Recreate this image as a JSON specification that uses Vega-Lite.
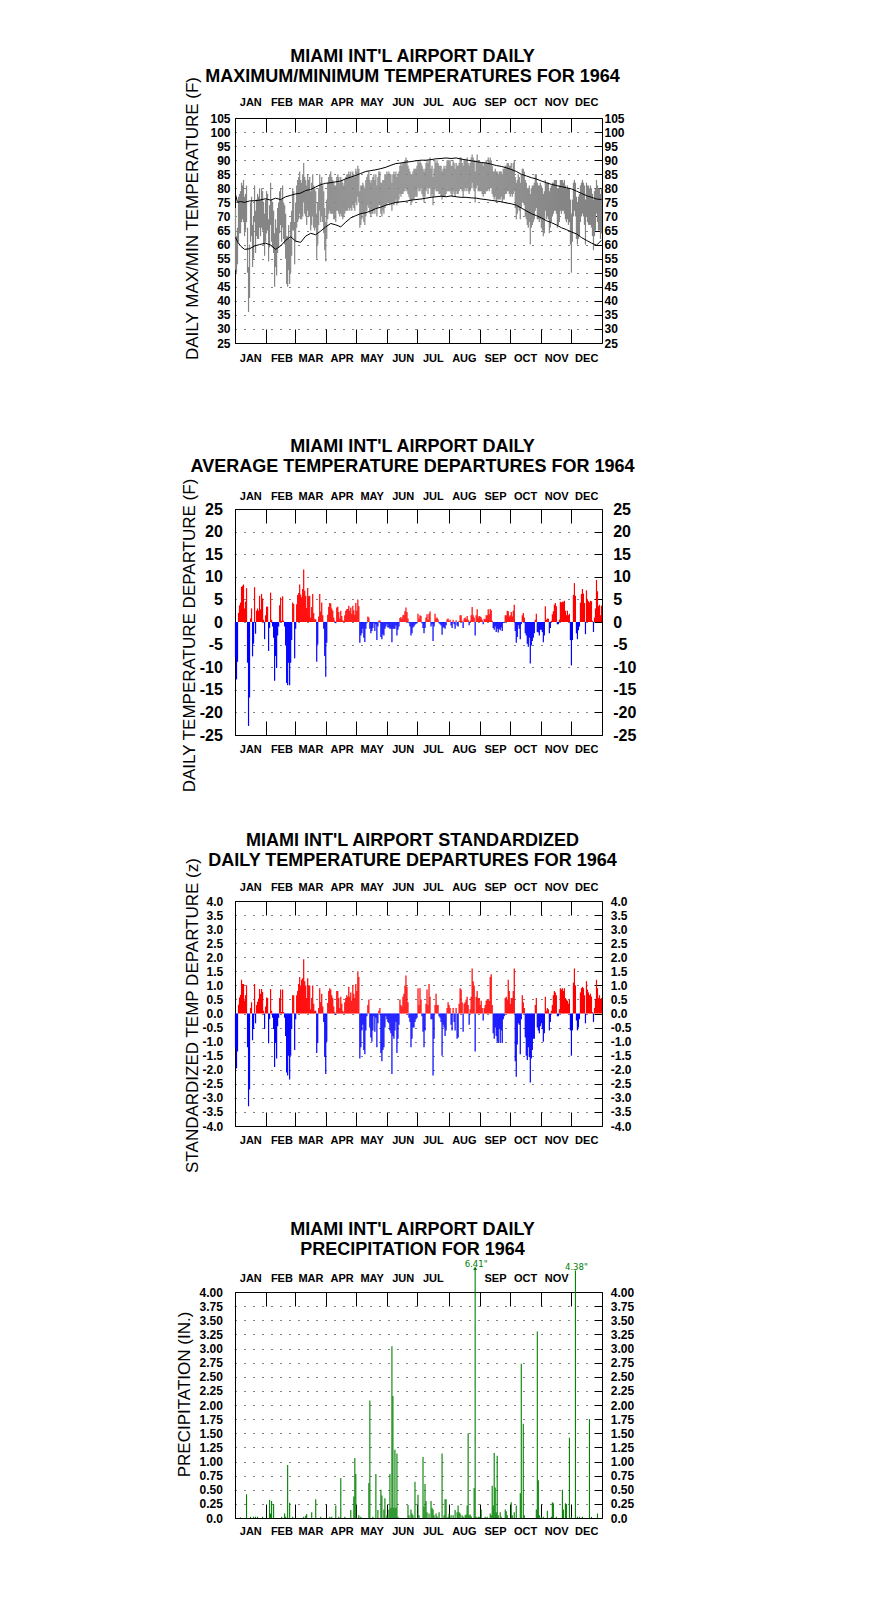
{
"$schema":"https://vega.github.io/schema/vega-lite/v6.json",
"background":"white",
"autosize":{"type":"pad"},
"padding":{"left":175,"top":47,"right":5,"bottom":5},
"spacing":166,
"bounds":"flush",
"datasets":{
"daily":[
{"day":1,"hi":73,"lo":51,"dep":-7.8,"z":-1.2},{"day":2,"hi":63,"lo":50,"dep":-12.7,"z":-1.95},{"day":3,"hi":66,"lo":53,"dep":-8.8,"z":-1.35},{"day":4,"hi":77,"lo":61,"dep":2.0,"z":0.31},{"day":5,"hi":78,"lo":64,"dep":3.7,"z":0.57},{"day":6,"hi":79,"lo":64,"dep":4.3,"z":0.66},{"day":7,"hi":82,"lo":68,"dep":7.8,"z":1.2},{"day":8,"hi":81,"lo":69,"dep":8.0,"z":1.05},{"day":9,"hi":83,"lo":68,"dep":8.3,"z":1.05},{"day":10,"hi":77,"lo":63,"dep":3.0,"z":0.46},
{"day":11,"hi":78,"lo":65,"dep":4.5,"z":0.65},{"day":12,"hi":81,"lo":68,"dep":7.5,"z":1.0},{"day":13,"hi":66,"lo":50,"dep":-9.0,"z":-1.2},{"day":14,"hi":52,"lo":36,"dep":-23.0,"z":-3.3},{"day":15,"hi":60,"lo":41,"dep":-16.7,"z":-2.7},{"day":16,"hi":75,"lo":61,"dep":0.8,"z":0.2},{"day":17,"hi":77,"lo":63,"dep":3.0,"z":0.4},{"day":18,"hi":67,"lo":52,"dep":-7.6,"z":-0.95},{"day":19,"hi":70,"lo":55,"dep":-4.8,"z":-0.55},{"day":20,"hi":81,"lo":68,"dep":7.7,"z":1.05},
{"day":21,"hi":72,"lo":57,"dep":-2.6,"z":-0.35},{"day":22,"hi":76,"lo":63,"dep":2.5,"z":0.3},{"day":23,"hi":78,"lo":62,"dep":3.0,"z":0.42},{"day":24,"hi":77,"lo":62,"dep":2.5,"z":0.53},{"day":25,"hi":80,"lo":66,"dep":5.8,"z":0.87},{"day":26,"hi":76,"lo":63,"dep":2.8,"z":0.7},{"day":27,"hi":80,"lo":66,"dep":6.2,"z":0.87},{"day":28,"hi":79,"lo":65,"dep":5.2,"z":0.77},{"day":29,"hi":75,"lo":60,"dep":0.5,"z":0.1},{"day":30,"hi":71,"lo":56,"dep":-3.8,"z":-0.55},
{"day":31,"hi":76,"lo":61,"dep":1.5,"z":0.25},{"day":32,"hi":79,"lo":64,"dep":3.4,"z":0.57},{"day":33,"hi":78,"lo":65,"dep":3.4,"z":0.55},{"day":34,"hi":69,"lo":54,"dep":-6.4,"z":-1.06},{"day":35,"hi":74,"lo":59,"dep":-1.3,"z":-0.2},{"day":36,"hi":82,"lo":67,"dep":6.5,"z":0.87},{"day":37,"hi":76,"lo":61,"dep":0.5,"z":0.1},{"day":38,"hi":75,"lo":59,"dep":-1.0,"z":-0.15},{"day":39,"hi":72,"lo":57,"dep":-3.5,"z":-0.55},{"day":40,"hi":64,"lo":45,"dep":-13.0,"z":-1.9},
{"day":41,"hi":69,"lo":52,"dep":-7.5,"z":-1.05},{"day":42,"hi":66,"lo":49,"dep":-10.2,"z":-1.6},{"day":43,"hi":73,"lo":57,"dep":-3.0,"z":-0.45},{"day":44,"hi":75,"lo":59,"dep":-1.0,"z":-0.15},{"day":45,"hi":79,"lo":64,"dep":3.7,"z":0.55},{"day":46,"hi":80,"lo":67,"dep":5.4,"z":0.85},{"day":47,"hi":76,"lo":61,"dep":0.3,"z":0.05},{"day":48,"hi":81,"lo":66,"dep":5.7,"z":0.85},{"day":49,"hi":75,"lo":62,"dep":0.3,"z":0.05},{"day":50,"hi":74,"lo":60,"dep":-1.0,"z":-0.15},
{"day":51,"hi":71,"lo":55,"dep":-5.2,"z":-0.8},{"day":52,"hi":63,"lo":46,"dep":-13.5,"z":-2.1},{"day":53,"hi":63,"lo":45,"dep":-14.0,"z":-2.2},{"day":54,"hi":67,"lo":51,"dep":-9.0,"z":-1.5},{"day":55,"hi":62,"lo":46,"dep":-14.0,"z":-2.35},{"day":56,"hi":68,"lo":50,"dep":-9.0,"z":-1.5},{"day":57,"hi":72,"lo":56,"dep":-4.0,"z":-0.55},{"day":58,"hi":80,"lo":65,"dep":4.3,"z":0.65},{"day":59,"hi":79,"lo":65,"dep":4.0,"z":0.65},{"day":60,"hi":68,"lo":53,"dep":-8.0,"z":-1.3},
{"day":61,"hi":75,"lo":61,"dep":-1.5,"z":-0.2},{"day":62,"hi":81,"lo":66,"dep":3.9,"z":0.65},{"day":63,"hi":83,"lo":68,"dep":6.0,"z":0.8},{"day":64,"hi":84,"lo":69,"dep":6.4,"z":1.05},{"day":65,"hi":86,"lo":71,"dep":8.3,"z":1.3},{"day":66,"hi":83,"lo":69,"dep":6.1,"z":1.0},{"day":67,"hi":82,"lo":69,"dep":5.5,"z":1.2},{"day":68,"hi":85,"lo":70,"dep":7.3,"z":1.25},{"day":69,"hi":89,"lo":75,"dep":11.6,"z":1.93},{"day":70,"hi":84,"lo":71,"dep":6.9,"z":1.15},
{"day":71,"hi":83,"lo":70,"dep":5.8,"z":1.0},{"day":72,"hi":81,"lo":67,"dep":3.1,"z":0.55},{"day":73,"hi":85,"lo":72,"dep":7.5,"z":1.25},{"day":74,"hi":83,"lo":70,"dep":5.7,"z":1.0},{"day":75,"hi":84,"lo":70,"dep":5.8,"z":1.0},{"day":76,"hi":79,"lo":65,"dep":1.0,"z":0.15},{"day":77,"hi":82,"lo":67,"dep":3.3,"z":0.55},{"day":78,"hi":85,"lo":70,"dep":6.2,"z":1.0},{"day":79,"hi":81,"lo":66,"dep":2.0,"z":0.35},{"day":80,"hi":80,"lo":65,"dep":0.6,"z":0.1},
{"day":81,"hi":79,"lo":66,"dep":0.6,"z":0.1},{"day":82,"hi":71,"lo":55,"dep":-8.8,"z":-1.4},{"day":83,"hi":75,"lo":60,"dep":-5.0,"z":-1.05},{"day":84,"hi":80,"lo":67,"dep":1.2,"z":0.2},{"day":85,"hi":85,"lo":72,"dep":6.2,"z":0.9},{"day":86,"hi":82,"lo":68,"dep":2.3,"z":0.4},{"day":87,"hi":84,"lo":70,"dep":4.3,"z":0.7},{"day":88,"hi":81,"lo":68,"dep":1.5,"z":0.25},{"day":89,"hi":79,"lo":64,"dep":-1.5,"z":-0.3},{"day":90,"hi":73,"lo":58,"dep":-7.5,"z":-1.55},
{"day":91,"hi":68,"lo":54,"dep":-12.1,"z":-2.15},{"day":92,"hi":76,"lo":62,"dep":-4.6,"z":-1.0},{"day":93,"hi":82,"lo":69,"dep":1.6,"z":0.37},{"day":94,"hi":84,"lo":71,"dep":3.4,"z":0.8},{"day":95,"hi":85,"lo":72,"dep":4.2,"z":0.9},{"day":96,"hi":86,"lo":71,"dep":4.1,"z":0.85},{"day":97,"hi":84,"lo":71,"dep":3.0,"z":0.65},{"day":98,"hi":83,"lo":71,"dep":2.5,"z":0.55},{"day":99,"hi":82,"lo":69,"dep":1.0,"z":0.25},{"day":100,"hi":81,"lo":69,"dep":0.3,"z":0.05},
{"day":101,"hi":81,"lo":68,"dep":-0.3,"z":-0.05},{"day":102,"hi":84,"lo":72,"dep":3.2,"z":0.8},{"day":103,"hi":85,"lo":72,"dep":3.4,"z":0.8},{"day":104,"hi":84,"lo":71,"dep":2.2,"z":0.55},{"day":105,"hi":82,"lo":70,"dep":0.8,"z":0.2},{"day":106,"hi":84,"lo":71,"dep":2.5,"z":0.6},{"day":107,"hi":83,"lo":70,"dep":1.3,"z":0.35},{"day":108,"hi":82,"lo":69,"dep":0.4,"z":0.1},{"day":109,"hi":81,"lo":70,"dep":0.2,"z":0.05},{"day":110,"hi":83,"lo":71,"dep":1.5,"z":0.4},
{"day":111,"hi":84,"lo":72,"dep":2.5,"z":0.55},{"day":112,"hi":85,"lo":72,"dep":2.8,"z":0.65},{"day":113,"hi":85,"lo":72,"dep":2.9,"z":0.6},{"day":114,"hi":86,"lo":73,"dep":3.6,"z":0.95},{"day":115,"hi":85,"lo":72,"dep":2.5,"z":0.6},{"day":116,"hi":86,"lo":73,"dep":3.2,"z":0.75},{"day":117,"hi":84,"lo":72,"dep":1.8,"z":0.45},{"day":118,"hi":86,"lo":74,"dep":3.6,"z":1.0},{"day":119,"hi":85,"lo":73,"dep":2.6,"z":0.7},{"day":120,"hi":84,"lo":72,"dep":1.6,"z":0.55},
{"day":121,"hi":87,"lo":75,"dep":4.2,"z":1.05},{"day":122,"hi":86,"lo":74,"dep":2.5,"z":0.8},{"day":123,"hi":88,"lo":77,"dep":5.0,"z":1.5},{"day":124,"hi":87,"lo":75,"dep":3.5,"z":1.3},{"day":125,"hi":79,"lo":66,"dep":-4.6,"z":-1.6},{"day":126,"hi":81,"lo":67,"dep":-3.0,"z":-1.2},{"day":127,"hi":81,"lo":69,"dep":-2.5,"z":-0.6},{"day":128,"hi":82,"lo":71,"dep":-1.5,"z":-0.4},{"day":129,"hi":81,"lo":68,"dep":-3.5,"z":-1.3},{"day":130,"hi":80,"lo":67,"dep":-4.4,"z":-1.45},
{"day":131,"hi":83,"lo":70,"dep":-1.5,"z":-0.6},{"day":132,"hi":84,"lo":72,"dep":-0.3,"z":-0.1},{"day":133,"hi":85,"lo":74,"dep":1.2,"z":0.3},{"day":134,"hi":86,"lo":73,"dep":1.0,"z":0.5},{"day":135,"hi":83,"lo":71,"dep":-1.5,"z":-0.5},{"day":136,"hi":82,"lo":70,"dep":-2.5,"z":-0.85},{"day":137,"hi":83,"lo":71,"dep":-2.0,"z":-1.0},{"day":138,"hi":84,"lo":71,"dep":-1.3,"z":-0.6},{"day":139,"hi":85,"lo":72,"dep":-0.3,"z":-0.1},{"day":140,"hi":83,"lo":71,"dep":-2.0,"z":-0.65},
{"day":141,"hi":85,"lo":73,"dep":-0.5,"z":-0.15},{"day":142,"hi":81,"lo":70,"dep":-4.0,"z":-1.2},{"day":143,"hi":84,"lo":73,"dep":-1.0,"z":-0.35},{"day":144,"hi":86,"lo":74,"dep":0.3,"z":0.1},{"day":145,"hi":86,"lo":74,"dep":0.4,"z":0.2},{"day":146,"hi":82,"lo":71,"dep":-3.3,"z":-1.4},{"day":147,"hi":82,"lo":70,"dep":-3.8,"z":-1.7},{"day":148,"hi":83,"lo":72,"dep":-2.7,"z":-1.3},{"day":149,"hi":83,"lo":71,"dep":-3.0,"z":-1.2},{"day":150,"hi":85,"lo":73,"dep":-1.5,"z":-0.5},
{"day":151,"hi":85,"lo":74,"dep":-1.0,"z":-0.1},{"day":152,"hi":86,"lo":74,"dep":-0.5,"z":-0.2},{"day":153,"hi":85,"lo":75,"dep":-1.2,"z":-0.3},{"day":154,"hi":86,"lo":75,"dep":-1.2,"z":-0.35},{"day":155,"hi":85,"lo":74,"dep":-1.5,"z":-0.6},{"day":156,"hi":85,"lo":75,"dep":-1.5,"z":-0.7},{"day":157,"hi":82,"lo":72,"dep":-4.5,"z":-2.15},{"day":158,"hi":85,"lo":75,"dep":-1.5,"z":-0.8},{"day":159,"hi":86,"lo":74,"dep":-1.5,"z":-0.9},{"day":160,"hi":85,"lo":75,"dep":-1.5,"z":-0.6},
{"day":161,"hi":86,"lo":76,"dep":-0.8,"z":-0.3},{"day":162,"hi":84,"lo":74,"dep":-3.0,"z":-1.4},{"day":163,"hi":85,"lo":75,"dep":-1.7,"z":-0.9},{"day":164,"hi":86,"lo":76,"dep":-1.0,"z":-0.4},{"day":165,"hi":88,"lo":78,"dep":0.9,"z":0.5},{"day":166,"hi":89,"lo":77,"dep":1.1,"z":0.3},{"day":167,"hi":88,"lo":78,"dep":0.7,"z":0.25},{"day":168,"hi":89,"lo":78,"dep":1.5,"z":0.6},{"day":169,"hi":89,"lo":79,"dep":1.6,"z":0.7},{"day":170,"hi":90,"lo":79,"dep":2.4,"z":1.0},
{"day":171,"hi":91,"lo":80,"dep":3.2,"z":1.35},{"day":172,"hi":90,"lo":79,"dep":2.2,"z":0.95},{"day":173,"hi":88,"lo":78,"dep":0.8,"z":0.4},{"day":174,"hi":87,"lo":77,"dep":-0.3,"z":-0.15},{"day":175,"hi":86,"lo":76,"dep":-1.0,"z":-0.3},{"day":176,"hi":85,"lo":74,"dep":-3.0,"z":-1.2},{"day":177,"hi":85,"lo":75,"dep":-2.5,"z":-0.9},{"day":178,"hi":86,"lo":76,"dep":-1.2,"z":-0.5},{"day":179,"hi":87,"lo":76,"dep":-1.0,"z":-0.5},{"day":180,"hi":87,"lo":77,"dep":-0.6,"z":-0.3},
{"day":181,"hi":87,"lo":77,"dep":-0.4,"z":-0.2},{"day":182,"hi":88,"lo":77,"dep":-0.3,"z":-0.15},{"day":183,"hi":90,"lo":80,"dep":1.8,"z":0.9},{"day":184,"hi":89,"lo":79,"dep":0.8,"z":0.3},{"day":185,"hi":90,"lo":79,"dep":1.5,"z":0.9},{"day":186,"hi":89,"lo":80,"dep":1.3,"z":0.5},{"day":187,"hi":88,"lo":78,"dep":-0.3,"z":-0.1},{"day":188,"hi":87,"lo":77,"dep":-1.3,"z":-0.65},{"day":189,"hi":86,"lo":75,"dep":-2.5,"z":-1.2},{"day":190,"hi":87,"lo":77,"dep":-1.3,"z":-0.6},
{"day":191,"hi":89,"lo":79,"dep":1.0,"z":0.35},{"day":192,"hi":90,"lo":80,"dep":1.7,"z":0.85},{"day":193,"hi":89,"lo":78,"dep":0.5,"z":0.3},{"day":194,"hi":90,"lo":80,"dep":1.8,"z":1.05},{"day":195,"hi":91,"lo":80,"dep":2.3,"z":0.6},{"day":196,"hi":87,"lo":77,"dep":-1.0,"z":-0.2},{"day":197,"hi":88,"lo":78,"dep":-0.5,"z":-0.2},{"day":198,"hi":84,"lo":74,"dep":-4.2,"z":-2.2},{"day":199,"hi":87,"lo":77,"dep":-1.0,"z":-0.9},{"day":200,"hi":90,"lo":80,"dep":1.8,"z":0.3},
{"day":201,"hi":89,"lo":79,"dep":0.8,"z":0.7},{"day":202,"hi":90,"lo":79,"dep":1.0,"z":0.3},{"day":203,"hi":89,"lo":79,"dep":0.6,"z":0.3},{"day":204,"hi":88,"lo":78,"dep":-0.3,"z":-0.1},{"day":205,"hi":88,"lo":78,"dep":-0.5,"z":-0.15},{"day":206,"hi":88,"lo":77,"dep":-0.8,"z":-0.3},{"day":207,"hi":86,"lo":76,"dep":-2.8,"z":-1.5},{"day":208,"hi":87,"lo":77,"dep":-1.2,"z":-0.4},{"day":209,"hi":88,"lo":77,"dep":-1.2,"z":-0.5},{"day":210,"hi":87,"lo":77,"dep":-1.5,"z":-0.8},
{"day":211,"hi":88,"lo":78,"dep":-0.7,"z":-0.6},{"day":212,"hi":90,"lo":79,"dep":0.6,"z":0.2},{"day":213,"hi":90,"lo":79,"dep":0.8,"z":0.4},{"day":214,"hi":90,"lo":79,"dep":0.3,"z":0.3},{"day":215,"hi":90,"lo":79,"dep":0.5,"z":0.2},{"day":216,"hi":88,"lo":78,"dep":-0.8,"z":-0.4},{"day":217,"hi":88,"lo":77,"dep":-1.3,"z":-0.6},{"day":218,"hi":90,"lo":79,"dep":0.5,"z":0.2},{"day":219,"hi":89,"lo":78,"dep":-0.5,"z":-0.3},{"day":220,"hi":87,"lo":77,"dep":-1.5,"z":-0.6},
{"day":221,"hi":89,"lo":79,"dep":0.4,"z":0.2},{"day":222,"hi":88,"lo":78,"dep":-0.8,"z":-0.9},{"day":223,"hi":88,"lo":78,"dep":-1.0,"z":-0.85},{"day":224,"hi":89,"lo":79,"dep":0.2,"z":0.35},{"day":225,"hi":91,"lo":80,"dep":1.5,"z":0.9},{"day":226,"hi":91,"lo":80,"dep":1.5,"z":0.85},{"day":227,"hi":89,"lo":79,"dep":0.3,"z":0.4},{"day":228,"hi":88,"lo":77,"dep":-1.3,"z":-0.65},{"day":229,"hi":90,"lo":79,"dep":0.8,"z":0.35},{"day":230,"hi":90,"lo":80,"dep":1.0,"z":0.4},
{"day":231,"hi":90,"lo":79,"dep":0.6,"z":0.5},{"day":232,"hi":91,"lo":80,"dep":1.3,"z":0.6},{"day":233,"hi":89,"lo":79,"dep":0.5,"z":0.3},{"day":234,"hi":88,"lo":78,"dep":-0.7,"z":-0.4},{"day":235,"hi":89,"lo":79,"dep":0.3,"z":0.15},{"day":236,"hi":91,"lo":80,"dep":1.5,"z":0.6},{"day":237,"hi":92,"lo":82,"dep":3.3,"z":1.6},{"day":238,"hi":91,"lo":80,"dep":1.5,"z":1.15},{"day":239,"hi":90,"lo":79,"dep":1.0,"z":1.0},{"day":240,"hi":86,"lo":75,"dep":-3.0,"z":-1.35},
{"day":241,"hi":90,"lo":80,"dep":1.5,"z":0.6},{"day":242,"hi":92,"lo":81,"dep":2.8,"z":0.8},{"day":243,"hi":90,"lo":79,"dep":1.0,"z":0.55},{"day":244,"hi":90,"lo":79,"dep":1.3,"z":0.55},{"day":245,"hi":89,"lo":79,"dep":1.2,"z":0.3},{"day":246,"hi":89,"lo":79,"dep":1.0,"z":0.45},{"day":247,"hi":89,"lo":78,"dep":0.5,"z":0.2},{"day":248,"hi":88,"lo":77,"dep":-0.5,"z":-0.25},{"day":249,"hi":89,"lo":78,"dep":0.7,"z":0.2},{"day":250,"hi":89,"lo":78,"dep":0.6,"z":0.3},
{"day":251,"hi":90,"lo":79,"dep":1.5,"z":0.45},{"day":252,"hi":89,"lo":79,"dep":1.5,"z":0.5},{"day":253,"hi":91,"lo":80,"dep":2.8,"z":0.5},{"day":254,"hi":90,"lo":79,"dep":1.7,"z":0.45},{"day":255,"hi":91,"lo":80,"dep":2.9,"z":1.3},{"day":256,"hi":90,"lo":80,"dep":2.6,"z":1.4},{"day":257,"hi":88,"lo":78,"dep":0.3,"z":0.3},{"day":258,"hi":86,"lo":77,"dep":-1.3,"z":-0.7},{"day":259,"hi":86,"lo":76,"dep":-1.7,"z":-0.9},{"day":260,"hi":87,"lo":77,"dep":-1.0,"z":-0.5},
{"day":261,"hi":86,"lo":75,"dep":-2.2,"z":-0.8},{"day":262,"hi":86,"lo":76,"dep":-1.5,"z":-1.0},{"day":263,"hi":85,"lo":76,"dep":-2.3,"z":-1.05},{"day":264,"hi":86,"lo":76,"dep":-1.5,"z":-0.55},{"day":265,"hi":86,"lo":76,"dep":-1.8,"z":-1.05},{"day":266,"hi":86,"lo":77,"dep":-1.2,"z":-0.6},{"day":267,"hi":85,"lo":75,"dep":-2.0,"z":-1.05},{"day":268,"hi":87,"lo":76,"dep":-0.2,"z":-0.2},{"day":269,"hi":87,"lo":76,"dep":-0.2,"z":-0.1},{"day":270,"hi":88,"lo":78,"dep":1.5,"z":0.55},
{"day":271,"hi":88,"lo":78,"dep":1.5,"z":0.6},{"day":272,"hi":89,"lo":79,"dep":2.5,"z":0.5},{"day":273,"hi":89,"lo":79,"dep":2.4,"z":1.2},{"day":274,"hi":88,"lo":78,"dep":1.2,"z":0.8},{"day":275,"hi":88,"lo":77,"dep":1.5,"z":0.35},{"day":276,"hi":89,"lo":78,"dep":2.2,"z":0.55},{"day":277,"hi":87,"lo":77,"dep":1.2,"z":0.55},{"day":278,"hi":89,"lo":78,"dep":2.5,"z":0.8},{"day":279,"hi":90,"lo":79,"dep":3.8,"z":1.6},{"day":280,"hi":84,"lo":73,"dep":-2.0,"z":-1.7},
{"day":281,"hi":82,"lo":69,"dep":-4.6,"z":-2.25},{"day":282,"hi":83,"lo":71,"dep":-3.3,"z":-1.1},{"day":283,"hi":85,"lo":73,"dep":-0.7,"z":-0.35},{"day":284,"hi":84,"lo":72,"dep":-1.5,"z":-0.4},{"day":285,"hi":82,"lo":69,"dep":-3.8,"z":-1.45},{"day":286,"hi":85,"lo":73,"dep":-0.5,"z":-0.2},{"day":287,"hi":87,"lo":75,"dep":1.5,"z":0.65},{"day":288,"hi":87,"lo":75,"dep":2.0,"z":0.4},{"day":289,"hi":86,"lo":74,"dep":1.0,"z":0.2},{"day":290,"hi":83,"lo":70,"dep":-2.5,"z":-0.85},
{"day":291,"hi":82,"lo":69,"dep":-3.0,"z":-1.5},{"day":292,"hi":80,"lo":67,"dep":-4.8,"z":-1.65},{"day":293,"hi":80,"lo":66,"dep":-5.5,"z":-1.2},{"day":294,"hi":81,"lo":68,"dep":-3.5,"z":-1.55},{"day":295,"hi":78,"lo":60,"dep":-9.2,"z":-2.45},{"day":296,"hi":80,"lo":66,"dep":-5.2,"z":-1.6},{"day":297,"hi":81,"lo":67,"dep":-4.2,"z":-1.3},{"day":298,"hi":81,"lo":68,"dep":-3.5,"z":-0.9},{"day":299,"hi":82,"lo":69,"dep":-2.5,"z":-0.9},{"day":300,"hi":85,"lo":72,"dep":0.5,"z":0.3},
{"day":301,"hi":85,"lo":73,"dep":1.8,"z":0.55},{"day":302,"hi":82,"lo":69,"dep":-2.2,"z":-0.5},{"day":303,"hi":81,"lo":69,"dep":-2.3,"z":-0.6},{"day":304,"hi":81,"lo":68,"dep":-3.0,"z":-0.7},{"day":305,"hi":82,"lo":69,"dep":-1.7,"z":-0.45},{"day":306,"hi":81,"lo":66,"dep":-1.7,"z":-0.35},{"day":307,"hi":80,"lo":65,"dep":-2.2,"z":-0.55},{"day":308,"hi":78,"lo":63,"dep":-4.5,"z":-1.0},{"day":309,"hi":79,"lo":64,"dep":-3.0,"z":-0.7},{"day":310,"hi":83,"lo":72,"dep":3.5,"z":0.6},
{"day":311,"hi":82,"lo":69,"dep":0.5,"z":0.1},{"day":312,"hi":82,"lo":70,"dep":0.8,"z":0.2},{"day":313,"hi":82,"lo":69,"dep":0.7,"z":0.15},{"day":314,"hi":79,"lo":64,"dep":-2.5,"z":-0.6},{"day":315,"hi":80,"lo":66,"dep":-1.3,"z":-0.3},{"day":316,"hi":81,"lo":68,"dep":0.3,"z":0.1},{"day":317,"hi":82,"lo":70,"dep":1.7,"z":0.3},{"day":318,"hi":82,"lo":71,"dep":2.4,"z":0.65},{"day":319,"hi":83,"lo":72,"dep":3.8,"z":0.8},{"day":320,"hi":83,"lo":72,"dep":4.2,"z":0.75},
{"day":321,"hi":83,"lo":71,"dep":3.5,"z":0.65},{"day":322,"hi":80,"lo":66,"dep":-0.5,"z":-0.1},{"day":323,"hi":80,"lo":67,"dep":-0.5,"z":-0.1},{"day":324,"hi":81,"lo":68,"dep":0.5,"z":0.15},{"day":325,"hi":83,"lo":72,"dep":4.5,"z":0.9},{"day":326,"hi":83,"lo":71,"dep":4.3,"z":0.85},{"day":327,"hi":83,"lo":72,"dep":4.5,"z":0.9},{"day":328,"hi":82,"lo":72,"dep":4.5,"z":0.8},{"day":329,"hi":83,"lo":71,"dep":4.7,"z":0.9},{"day":330,"hi":81,"lo":69,"dep":2.5,"z":0.55},
{"day":331,"hi":80,"lo":68,"dep":1.5,"z":0.5},{"day":332,"hi":81,"lo":69,"dep":2.5,"z":0.45},{"day":333,"hi":80,"lo":67,"dep":1.5,"z":0.35},{"day":334,"hi":80,"lo":68,"dep":1.8,"z":0.5},{"day":335,"hi":76,"lo":60,"dep":-4.0,"z":-0.6},{"day":336,"hi":71,"lo":50,"dep":-9.6,"z":-1.5},{"day":337,"hi":76,"lo":61,"dep":-4.0,"z":-0.6},{"day":338,"hi":82,"lo":70,"dep":6.0,"z":1.1},{"day":339,"hi":83,"lo":72,"dep":8.6,"z":1.6},{"day":340,"hi":82,"lo":70,"dep":5.8,"z":1.0},
{"day":341,"hi":77,"lo":62,"dep":-2.5,"z":-0.25},{"day":342,"hi":75,"lo":60,"dep":-3.8,"z":-0.6},{"day":343,"hi":77,"lo":62,"dep":-1.8,"z":-0.5},{"day":344,"hi":78,"lo":63,"dep":-1.0,"z":-0.2},{"day":345,"hi":81,"lo":68,"dep":4.3,"z":0.75},{"day":346,"hi":82,"lo":70,"dep":6.2,"z":0.9},{"day":347,"hi":83,"lo":71,"dep":7.3,"z":0.95},{"day":348,"hi":82,"lo":70,"dep":6.3,"z":0.9},{"day":349,"hi":81,"lo":67,"dep":4.2,"z":0.65},{"day":350,"hi":76,"lo":60,"dep":-2.7,"z":-0.35},
{"day":351,"hi":82,"lo":70,"dep":7.0,"z":1.15},{"day":352,"hi":81,"lo":68,"dep":5.0,"z":0.85},{"day":353,"hi":81,"lo":67,"dep":4.6,"z":0.75},{"day":354,"hi":80,"lo":67,"dep":4.3,"z":0.65},{"day":355,"hi":81,"lo":67,"dep":4.7,"z":0.7},{"day":356,"hi":80,"lo":66,"dep":4.6,"z":0.6},{"day":357,"hi":78,"lo":63,"dep":0.3,"z":0.05},{"day":358,"hi":76,"lo":58,"dep":-2.2,"z":-0.3},{"day":359,"hi":79,"lo":63,"dep":1.0,"z":0.2},{"day":360,"hi":80,"lo":65,"dep":3.0,"z":0.5},
{"day":361,"hi":83,"lo":71,"dep":9.3,"z":1.2},{"day":362,"hi":81,"lo":68,"dep":6.8,"z":0.9},{"day":363,"hi":80,"lo":65,"dep":3.5,"z":0.55},{"day":364,"hi":80,"lo":65,"dep":3.8,"z":0.65},{"day":365,"hi":78,"lo":62,"dep":1.5,"z":0.5},{"day":366,"hi":80,"lo":64,"dep":3.6,"z":0.55}
],
"normals":[
{"day":1,"nmax":77.8,"nmin":62.6},{"day":3,"nmax":75.0,"nmin":61.0},{"day":6,"nmax":75.3,"nmin":59.5},{"day":10,"nmax":75.0,"nmin":58.3},{"day":15,"nmax":75.5,"nmin":58.5},{"day":20,"nmax":75.6,"nmin":59.5},{"day":25,"nmax":75.8,"nmin":60.0},{"day":31,"nmax":76.3,"nmin":60.5},{"day":36,"nmax":75.8,"nmin":59.8},{"day":41,"nmax":76.5,"nmin":58.3},{"day":46,"nmax":76.0,"nmin":59.5},{"day":51,"nmax":77.0,"nmin":61.5},{"day":56,"nmax":77.5,"nmin":62.8},{"day":61,"nmax":78.0,"nmin":61.2},{"day":66,"nmax":78.3,"nmin":60.8},{"day":71,"nmax":79.2,"nmin":63.0},{"day":76,"nmax":79.6,"nmin":64.0},{"day":81,"nmax":80.5,"nmin":63.5},{"day":86,"nmax":81.3,"nmin":64.8},{"day":91,"nmax":81.8,"nmin":66.3},{"day":96,"nmax":82.0,"nmin":67.5},{"day":101,"nmax":82.3,"nmin":67.0},{"day":106,"nmax":82.6,"nmin":66.3},{"day":111,"nmax":83.4,"nmin":68.0},{"day":116,"nmax":84.0,"nmin":69.5},{"day":121,"nmax":84.6,"nmin":70.3},{"day":126,"nmax":85.3,"nmin":71.0},{"day":131,"nmax":86.0,"nmin":71.3},{"day":136,"nmax":86.3,"nmin":72.0},{"day":141,"nmax":86.6,"nmin":72.8},{"day":146,"nmax":87.0,"nmin":73.3},{"day":151,"nmax":87.5,"nmin":74.0},{"day":156,"nmax":88.2,"nmin":74.5},{"day":161,"nmax":88.8,"nmin":75.0},{"day":166,"nmax":89.0,"nmin":75.2},{"day":171,"nmax":89.3,"nmin":75.4},{"day":176,"nmax":89.5,"nmin":75.8},{"day":181,"nmax":89.8,"nmin":76.0},{"day":186,"nmax":90.0,"nmin":76.2},{"day":191,"nmax":90.0,"nmin":76.5},{"day":196,"nmax":90.2,"nmin":76.8},{"day":201,"nmax":90.5,"nmin":77.0},{"day":206,"nmax":90.6,"nmin":77.2},{"day":211,"nmax":90.8,"nmin":77.0},{"day":216,"nmax":90.6,"nmin":77.3},{"day":221,"nmax":90.8,"nmin":77.0},{"day":226,"nmax":90.4,"nmin":76.8},{"day":231,"nmax":90.1,"nmin":76.8},{"day":236,"nmax":89.8,"nmin":76.6},{"day":241,"nmax":89.5,"nmin":76.5},{"day":246,"nmax":89.2,"nmin":76.2},{"day":251,"nmax":89.0,"nmin":76.0},{"day":256,"nmax":88.6,"nmin":75.7},{"day":261,"nmax":88.1,"nmin":75.5},{"day":266,"nmax":87.8,"nmin":75.2},{"day":271,"nmax":87.3,"nmin":74.8},{"day":276,"nmax":86.7,"nmin":74.5},{"day":281,"nmax":86.0,"nmin":74.0},{"day":286,"nmax":85.0,"nmin":73.0},{"day":291,"nmax":84.4,"nmin":72.0},{"day":296,"nmax":83.8,"nmin":71.0},{"day":301,"nmax":83.3,"nmin":70.3},{"day":306,"nmax":82.6,"nmin":69.5},{"day":311,"nmax":82.0,"nmin":68.5},{"day":316,"nmax":81.4,"nmin":67.8},{"day":321,"nmax":81.0,"nmin":67.0},{"day":326,"nmax":80.6,"nmin":66.0},{"day":331,"nmax":80.2,"nmin":65.3},{"day":336,"nmax":79.8,"nmin":64.5},{"day":341,"nmax":79.0,"nmin":63.8},{"day":346,"nmax":78.2,"nmin":62.5},{"day":351,"nmax":77.4,"nmin":61.5},{"day":356,"nmax":76.8,"nmin":60.5},{"day":361,"nmax":76.2,"nmin":59.8},{"day":366,"nmax":76.0,"nmin":61.5}
],
"prcp":[
{"day":6,"prcp":0.01},{"day":12,"prcp":0.42},{"day":16,"prcp":0.02},{"day":19,"prcp":0.02},{"day":21,"prcp":0.02},{"day":23,"prcp":0.02},{"day":28,"prcp":0.02},{"day":35,"prcp":0.32},{"day":36,"prcp":0.08},{"day":37,"prcp":0.30},{"day":39,"prcp":0.25},{"day":47,"prcp":0.02},{"day":50,"prcp":0.08},{"day":51,"prcp":0.02},{"day":53,"prcp":0.94},{"day":55,"prcp":0.27},{"day":58,"prcp":0.02},{"day":69,"prcp":0.02},{"day":71,"prcp":0.04},{"day":72,"prcp":0.07},{"day":77,"prcp":0.10},{"day":81,"prcp":0.33},{"day":86,"prcp":0.02},{"day":95,"prcp":0.02},{"day":97,"prcp":0.02},{"day":101,"prcp":0.22},{"day":104,"prcp":0.02},{"day":106,"prcp":0.71},{"day":110,"prcp":0.02},{"day":116,"prcp":0.14},{"day":119,"prcp":0.38},{"day":120,"prcp":1.06},{"day":121,"prcp":0.78},{"day":124,"prcp":0.05},{"day":126,"prcp":0.02},{"day":134,"prcp":0.62},{"day":135,"prcp":2.08},{"day":138,"prcp":0.02},{"day":141,"prcp":0.78},{"day":143,"prcp":0.14},{"day":146,"prcp":0.50},{"day":147,"prcp":0.40},{"day":149,"prcp":0.15},{"day":150,"prcp":0.35},{"day":152,"prcp":0.05},{"day":154,"prcp":0.15},{"day":155,"prcp":0.78},{"day":156,"prcp":0.18},{"day":157,"prcp":3.04},{"day":158,"prcp":2.16},{"day":159,"prcp":0.18},{"day":160,"prcp":1.21},{"day":161,"prcp":0.18},{"day":162,"prcp":1.14},{"day":163,"prcp":0.02},{"day":173,"prcp":0.23},{"day":174,"prcp":0.05},{"day":176,"prcp":0.15},{"day":177,"prcp":0.08},{"day":178,"prcp":0.05},{"day":180,"prcp":0.64},{"day":183,"prcp":0.41},{"day":184,"prcp":0.05},{"day":188,"prcp":1.08},{"day":189,"prcp":0.20},{"day":190,"prcp":0.60},{"day":191,"prcp":0.30},{"day":192,"prcp":0.10},{"day":194,"prcp":0.08},{"day":196,"prcp":0.30},{"day":197,"prcp":0.18},{"day":198,"prcp":0.15},{"day":199,"prcp":0.05},{"day":201,"prcp":0.08},{"day":202,"prcp":0.03},{"day":204,"prcp":0.10},{"day":207,"prcp":1.14},{"day":209,"prcp":0.05},{"day":210,"prcp":0.33},{"day":211,"prcp":0.33},{"day":213,"prcp":0.02},{"day":214,"prcp":0.08},{"day":216,"prcp":0.05},{"day":218,"prcp":0.05},{"day":220,"prcp":0.14},{"day":222,"prcp":0.10},{"day":223,"prcp":0.22},{"day":224,"prcp":0.10},{"day":225,"prcp":0.08},{"day":227,"prcp":0.05},{"day":228,"prcp":0.02},{"day":230,"prcp":0.05},{"day":231,"prcp":0.06},{"day":232,"prcp":0.22},{"day":233,"prcp":1.50},{"day":234,"prcp":0.05},{"day":235,"prcp":0.06},{"day":236,"prcp":0.03},{"day":239,"prcp":0.53},{"day":241,"prcp":0.02},{"day":243,"prcp":0.02},{"day":244,"prcp":0.02},{"day":246,"prcp":0.15},{"day":250,"prcp":0.02},{"day":252,"prcp":0.02},{"day":255,"prcp":0.08},{"day":256,"prcp":0.05},{"day":257,"prcp":0.57},{"day":258,"prcp":0.22},{"day":259,"prcp":1.15},{"day":260,"prcp":0.54},{"day":261,"prcp":0.10},{"day":262,"prcp":1.10},{"day":263,"prcp":0.05},{"day":265,"prcp":0.10},{"day":266,"prcp":0.02},{"day":270,"prcp":0.15},{"day":271,"prcp":0.12},{"day":272,"prcp":0.05},{"day":276,"prcp":0.28},{"day":277,"prcp":0.05},{"day":279,"prcp":0.10},{"day":281,"prcp":0.22},{"day":285,"prcp":0.44},{"day":286,"prcp":2.73},{"day":288,"prcp":1.67},{"day":289,"prcp":0.05},{"day":301,"prcp":0.15},{"day":302,"prcp":3.30},{"day":303,"prcp":0.67},{"day":304,"prcp":0.05},{"day":306,"prcp":0.02},{"day":308,"prcp":0.02},{"day":312,"prcp":0.13},{"day":316,"prcp":0.02},{"day":317,"prcp":0.28},{"day":318,"prcp":0.26},{"day":321,"prcp":0.02},{"day":327,"prcp":0.50},{"day":328,"prcp":0.15},{"day":330,"prcp":0.26},{"day":331,"prcp":0.25},{"day":334,"prcp":1.42},{"day":336,"prcp":0.02},{"day":342,"prcp":0.02},{"day":344,"prcp":0.02},{"day":347,"prcp":0.02},{"day":354,"prcp":1.75},{"day":356,"prcp":0.02},{"day":362,"prcp":0.08}
],
"prcpx":[
{"day":240,"prcp":6.41,"plotted":4.42,"label":"6.41\""},
{"day":340,"prcp":4.38,"plotted":4.38,"label":"4.38\""}
]
},
"vconcat":[
{
"width":367,"height":225,
"title":{"text":["MIAMI INT'L AIRPORT DAILY","MAXIMUM/MINIMUM TEMPERATURES FOR 1964"],"offset":-28,"dx":-6,"baseline":"bottom"},
"layer":[
{"data":{"name":"daily"},"mark":{"type":"rule","color":"#858585","strokeWidth":1.2},
"encoding":{
"x":{"field":"day","type":"quantitative","scale":{"domain":[0.5,366.5],"nice":false,"zero":false},
"axis":{"orient":"top","values":[0.5,31.5,60.5,91.5,121.5,152.5,182.5,213.5,244.5,274.5,305.5,335.5],"labelExpr":"['JAN','FEB','MAR','APR','MAY','JUN','JUL','AUG','SEP','OCT','NOV','DEC'][indexof([0.5,31.5,60.5,91.5,121.5,152.5,182.5,213.5,244.5,274.5,305.5,335.5],datum.value)]","labelOffset":15.3,"labelAlign":"center","labelBaseline":"bottom","labelFontSize":11,"labelPadding":24.3,"tickSize":-14,"title":null}},
"y":{"field":"lo","type":"quantitative","scale":{"domain":[25,105],"nice":false,"zero":false},
"axis":{"orient":"left","values":[25,30,35,40,45,50,55,60,65,70,75,80,85,90,95,100,105],"ticks":false,"labelPadding":5,"labelFontSize":12,"grid":true,"gridColor":"black","gridDash":[1,8],"gridOpacity":1,"title":"DAILY MAX/MIN TEMPERATURE (F)","titleX":-37.5,"titleY":100,"titleAngle":270,"titleAlign":"center","titleBaseline":"alphabetic"}},
"y2":{"field":"hi"}}},
{"data":{"name":"normals"},"mark":{"type":"line","color":"black","strokeWidth":1},
"encoding":{
"x":{"field":"day","type":"quantitative","scale":{"domain":[0.5,366.5],"nice":false,"zero":false},
"axis":{"orient":"bottom","values":[0.5,31.5,60.5,91.5,121.5,152.5,182.5,213.5,244.5,274.5,305.5,335.5],"labelExpr":"['JAN','FEB','MAR','APR','MAY','JUN','JUL','AUG','SEP','OCT','NOV','DEC'][indexof([0.5,31.5,60.5,91.5,121.5,152.5,182.5,213.5,244.5,274.5,305.5,335.5],datum.value)]","labelOffset":15.3,"labelAlign":"center","labelBaseline":"top","labelFontSize":11,"labelPadding":23.5,"tickSize":-14,"title":null}},
"y":{"field":"nmax","type":"quantitative","scale":{"domain":[25,105],"nice":false,"zero":false},
"axis":{"orient":"right","values":[25,30,35,40,45,50,55,60,65,70,75,80,85,90,95,100,105],"tickSize":-8,"labelPadding":10,"labelFontSize":12,"title":null}}}},
{"data":{"name":"normals"},"mark":{"type":"line","color":"black","strokeWidth":1},
"encoding":{"x":{"field":"day","type":"quantitative","axis":null},"y":{"field":"nmin","type":"quantitative","axis":null}}}
],
"resolve":{"axis":{"x":"independent","y":"independent"}}
},
{
"width":367,"height":226,
"title":{"text":["MIAMI INT'L AIRPORT DAILY","AVERAGE TEMPERATURE DEPARTURES FOR 1964"],"offset":-16.5,"dx":-6,"baseline":"bottom"},
"layer":[
{"data":{"name":"daily"},"transform":[{"filter":"datum.dep > 0"}],"mark":{"type":"rule","color":"#ff0000","strokeWidth":1.2},
"encoding":{
"x":{"field":"day","type":"quantitative","scale":{"domain":[0.5,366.5],"nice":false,"zero":false},
"axis":{"orient":"top","values":[0.5,31.5,60.5,91.5,121.5,152.5,182.5,213.5,244.5,274.5,305.5,335.5],"labelExpr":"['JAN','FEB','MAR','APR','MAY','JUN','JUL','AUG','SEP','OCT','NOV','DEC'][indexof([0.5,31.5,60.5,91.5,121.5,152.5,182.5,213.5,244.5,274.5,305.5,335.5],datum.value)]","labelOffset":15.3,"labelAlign":"center","labelBaseline":"bottom","labelFontSize":11,"labelPadding":21.6,"tickSize":-14,"title":null}},
"y":{"field":"dep","type":"quantitative","scale":{"domain":[-25,25],"nice":false,"zero":false},
"axis":{"orient":"left","values":[-25,-20,-15,-10,-5,0,5,10,15,20,25],"labelExpr":"'' + datum.value","ticks":false,"labelPadding":12.6,"labelFontSize":16,"grid":true,"gridColor":"black","gridDash":[1,8],"gridOpacity":1,"title":"DAILY TEMPERATURE DEPARTURE (F)","titleX":-40.8,"titleY":126,"titleAngle":270,"titleAlign":"center","titleBaseline":"alphabetic"}},
"y2":{"datum":0}}},
{"data":{"name":"daily"},"transform":[{"filter":"datum.dep < 0"}],"mark":{"type":"rule","color":"#0000ff","strokeWidth":1.2},
"encoding":{
"x":{"field":"day","type":"quantitative","scale":{"domain":[0.5,366.5],"nice":false,"zero":false},
"axis":{"orient":"bottom","values":[0.5,31.5,60.5,91.5,121.5,152.5,182.5,213.5,244.5,274.5,305.5,335.5],"labelExpr":"['JAN','FEB','MAR','APR','MAY','JUN','JUL','AUG','SEP','OCT','NOV','DEC'][indexof([0.5,31.5,60.5,91.5,121.5,152.5,182.5,213.5,244.5,274.5,305.5,335.5],datum.value)]","labelOffset":15.3,"labelAlign":"center","labelBaseline":"top","labelFontSize":11,"labelPadding":22.7,"tickSize":-14,"title":null}},
"y":{"field":"dep","type":"quantitative","scale":{"domain":[-25,25],"nice":false,"zero":false},
"axis":{"orient":"right","values":[-25,-20,-15,-10,-5,0,5,10,15,20,25],"labelExpr":"'' + datum.value","tickSize":-8,"labelPadding":18.7,"labelFontSize":16,"title":null}},
"y2":{"datum":0}}}
],
"resolve":{"axis":{"x":"independent","y":"independent"}}
},
{
"width":367,"height":225,
"title":{"text":["MIAMI INT'L AIRPORT STANDARDIZED","DAILY TEMPERATURE DEPARTURES FOR 1964"],"offset":-30.5,"dx":-6,"baseline":"bottom"},
"layer":[
{"data":{"name":"daily"},"transform":[{"filter":"datum.z > 0"}],"mark":{"type":"rule","color":"#ff0000","strokeWidth":1.2},
"encoding":{
"x":{"field":"day","type":"quantitative","scale":{"domain":[0.5,366.5],"nice":false,"zero":false},
"axis":{"orient":"top","values":[0.5,31.5,60.5,91.5,121.5,152.5,182.5,213.5,244.5,274.5,305.5,335.5],"labelExpr":"['JAN','FEB','MAR','APR','MAY','JUN','JUL','AUG','SEP','OCT','NOV','DEC'][indexof([0.5,31.5,60.5,91.5,121.5,152.5,182.5,213.5,244.5,274.5,305.5,335.5],datum.value)]","labelOffset":15.3,"labelAlign":"center","labelBaseline":"bottom","labelFontSize":11,"labelPadding":22.3,"tickSize":-14,"title":null}},
"y":{"field":"z","type":"quantitative","scale":{"domain":[-4,4],"nice":false,"zero":false},
"axis":{"orient":"left","values":[-4,-3.5,-3,-2.5,-2,-1.5,-1,-0.5,0,0.5,1,1.5,2,2.5,3,3.5,4],"labelExpr":"replace(format(datum.value,'.1f'),'\u2212','-')","ticks":false,"labelPadding":12.3,"labelFontSize":12,"grid":true,"gridColor":"black","gridDash":[1,8],"gridOpacity":1,"title":"STANDARDIZED TEMP DEPARTURE (z)","titleX":-37.3,"titleY":114,"titleAngle":270,"titleAlign":"center","titleBaseline":"alphabetic"}},
"y2":{"datum":0}}},
{"data":{"name":"daily"},"transform":[{"filter":"datum.z < 0"}],"mark":{"type":"rule","color":"#0000ff","strokeWidth":1.2},
"encoding":{
"x":{"field":"day","type":"quantitative","scale":{"domain":[0.5,366.5],"nice":false,"zero":false},
"axis":{"orient":"bottom","values":[0.5,31.5,60.5,91.5,121.5,152.5,182.5,213.5,244.5,274.5,305.5,335.5],"labelExpr":"['JAN','FEB','MAR','APR','MAY','JUN','JUL','AUG','SEP','OCT','NOV','DEC'][indexof([0.5,31.5,60.5,91.5,121.5,152.5,182.5,213.5,244.5,274.5,305.5,335.5],datum.value)]","labelOffset":15.3,"labelAlign":"center","labelBaseline":"top","labelFontSize":11,"labelPadding":22.4,"tickSize":-14,"title":null}},
"y":{"field":"z","type":"quantitative","scale":{"domain":[-4,4],"nice":false,"zero":false},
"axis":{"orient":"right","values":[-4,-3.5,-3,-2.5,-2,-1.5,-1,-0.5,0,0.5,1,1.5,2,2.5,3,3.5,4],"labelExpr":"replace(format(datum.value,'.1f'),'\u2212','-')","tickSize":-8,"labelPadding":16.3,"labelFontSize":12,"title":null}},
"y2":{"datum":0}}}
],
"resolve":{"axis":{"x":"independent","y":"independent"}}
},
{
"width":367,"height":226,
"title":{"text":["MIAMI INT'L AIRPORT DAILY","PRECIPITATION FOR 1964"],"offset":-17.5,"dx":-6,"baseline":"bottom"},
"layer":[
{"data":{"name":"prcp"},"mark":{"type":"rule","color":"#008000","strokeWidth":1.1},
"encoding":{
"x":{"field":"day","type":"quantitative","scale":{"domain":[0.5,366.5],"nice":false,"zero":false},
"axis":{"orient":"top","values":[0.5,31.5,60.5,91.5,121.5,152.5,182.5,213.5,244.5,274.5,305.5,335.5],"labelExpr":"['JAN','FEB','MAR','APR','MAY','JUN','JUL','','SEP','OCT','NOV',''][indexof([0.5,31.5,60.5,91.5,121.5,152.5,182.5,213.5,244.5,274.5,305.5,335.5],datum.value)]","labelOffset":15.3,"labelAlign":"center","labelBaseline":"bottom","labelFontSize":11,"labelPadding":22.3,"tickSize":-14,"title":null}},
"y":{"field":"prcp","type":"quantitative","scale":{"domain":[0,4],"nice":false,"zero":false},
"axis":{"orient":"left","values":[0,0.25,0.5,0.75,1,1.25,1.5,1.75,2,2.25,2.5,2.75,3,3.25,3.5,3.75,4],"labelExpr":"datum.value == 0 ? '0.0' : format(datum.value,'.2f')","ticks":false,"labelPadding":12.6,"labelFontSize":12,"grid":true,"gridColor":"black","gridDash":[1,8],"gridOpacity":1,"title":"PRECIPITATION (IN.)","titleX":-45.3,"titleY":102,"titleAngle":270,"titleAlign":"center","titleBaseline":"alphabetic"}},
"y2":{"datum":0}}},
{"data":{"name":"prcpx"},"mark":{"type":"rule","color":"#008000","strokeWidth":1.1},
"encoding":{
"x":{"field":"day","type":"quantitative","scale":{"domain":[0.5,366.5],"nice":false,"zero":false},
"axis":{"orient":"bottom","values":[0.5,31.5,60.5,91.5,121.5,152.5,182.5,213.5,244.5,274.5,305.5,335.5],"labelExpr":"['JAN','FEB','MAR','APR','MAY','JUN','JUL','AUG','SEP','OCT','NOV','DEC'][indexof([0.5,31.5,60.5,91.5,121.5,152.5,182.5,213.5,244.5,274.5,305.5,335.5],datum.value)]","labelOffset":15.3,"labelAlign":"center","labelBaseline":"top","labelFontSize":11,"labelPadding":21.7,"tickSize":-14,"title":null}},
"y":{"field":"plotted","type":"quantitative","scale":{"domain":[0,4],"nice":false,"zero":false},
"axis":{"orient":"right","values":[0,0.25,0.5,0.75,1,1.25,1.5,1.75,2,2.25,2.5,2.75,3,3.25,3.5,3.75,4],"labelExpr":"datum.value == 0 ? '0.0' : format(datum.value,'.2f')","tickSize":-8,"labelPadding":16.3,"labelFontSize":12,"title":null}},
"y2":{"datum":0}}},
{"data":{"name":"prcpx"},"transform":[{"filter":"datum.prcp > datum.plotted"}],"mark":{"type":"point","shape":"triangle-up","filled":true,"color":"#008000","size":16,"opacity":1},
"encoding":{"x":{"field":"day","type":"quantitative","axis":null},"y":{"field":"plotted","type":"quantitative","axis":null}}},
{"data":{"name":"prcpx"},"mark":{"type":"text","color":"#008000","font":"Liberation Sans Narrow, DejaVu Sans Condensed, sans-serif","fontSize":9.5,"baseline":"bottom","align":"center","dy":1,"dx":1},
"encoding":{"x":{"field":"day","type":"quantitative","axis":null},"y":{"field":"plotted","type":"quantitative","axis":null},"text":{"field":"label"}}}
],
"resolve":{"axis":{"x":"independent","y":"independent"}}
}
],
"config":{
"view":{"stroke":"black","strokeWidth":1},
"font":"Liberation Sans",
"axis":{"labelFont":"Liberation Sans","labelFontWeight":"bold","labelColor":"black","tickColor":"black","tickWidth":1,"domain":false,"grid":false,"titleFont":"Liberation Sans","titleFontWeight":"normal","titleFontSize":17,"titleColor":"black","labelOverlap":false,"labelFlush":false},
"title":{"font":"Liberation Sans","fontSize":18,"fontWeight":"bold","color":"black","lineHeight":20,"anchor":"middle"}
}
}
